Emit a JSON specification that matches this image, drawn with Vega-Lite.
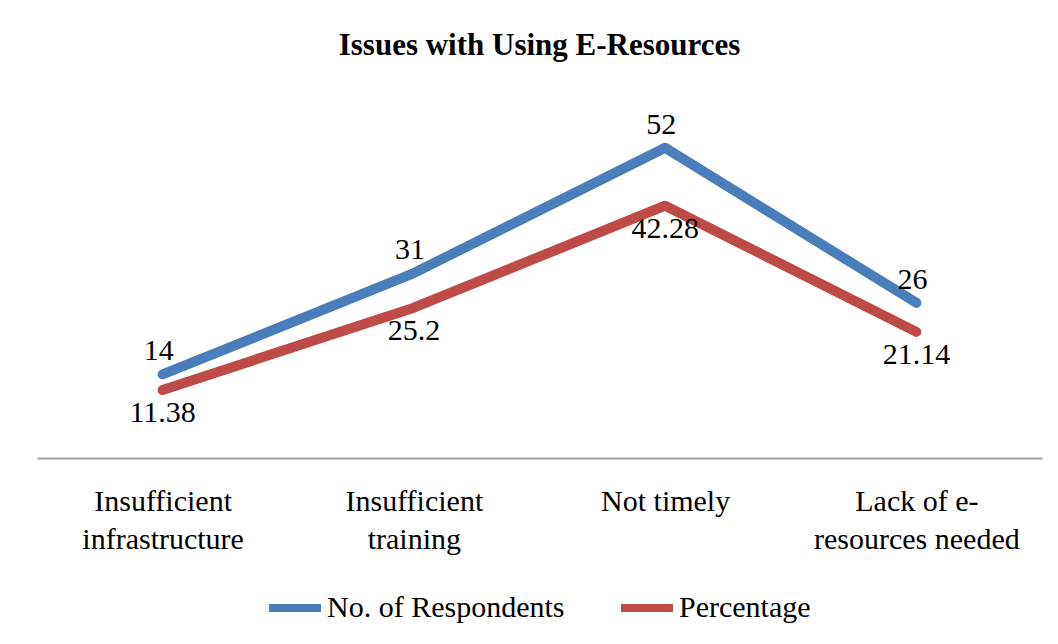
{
  "$schema": "https://vega.github.io/schema/vega-lite/v6.json",
  "autosize": {"type": "none"},
  "width": 1005,
  "height": 358,
  "padding": {"left": 37, "top": 100, "right": 16, "bottom": 186},
  "background": "white",
  "title": {
    "text": "Issues with Using E-Resources",
    "font": "Liberation Serif",
    "fontSize": 31,
    "fontWeight": "bold",
    "color": "black",
    "anchor": "middle",
    "offset": 38
  },
  "data": {
    "values": [
      {"category": "Insufficient infrastructure", "series": "No. of Respondents", "value": 14},
      {"category": "Insufficient training", "series": "No. of Respondents", "value": 31},
      {"category": "Not timely", "series": "No. of Respondents", "value": 52},
      {"category": "Lack of e-resources needed", "series": "No. of Respondents", "value": 26},
      {"category": "Insufficient infrastructure", "series": "Percentage", "value": 11.38},
      {"category": "Insufficient training", "series": "Percentage", "value": 25.2},
      {"category": "Not timely", "series": "Percentage", "value": 42.28},
      {"category": "Lack of e-resources needed", "series": "Percentage", "value": 21.14}
    ]
  },
  "encoding": {
    "x": {
      "field": "category",
      "type": "nominal",
      "sort": null,
      "scale": {"type": "point", "padding": 0.5},
      "axis": {
        "title": null,
        "labelAngle": 0,
        "domainColor": "#A6A6A6",
        "domainWidth": 2,
        "ticks": false,
        "labelFont": "Liberation Serif",
        "labelFontSize": 30,
        "labelColor": "black",
        "labelPadding": 28,
        "labelLineHeight": 38,
        "labelBaseline": "top",
        "labelLimit": 0,
        "labelExpr": "datum.label == 'Not timely' ? datum.label : (datum.label == 'Lack of e-resources needed' ? ['Lack of e-', 'resources needed'] : split(datum.label, ' '))"
      }
    },
    "y": {
      "field": "value",
      "type": "quantitative",
      "scale": {"domain": [0, 60], "nice": false, "zero": true},
      "axis": null
    }
  },
  "layer": [
    {
      "mark": {"type": "line", "strokeWidth": 10, "strokeCap": "round", "strokeJoin": "round"},
      "encoding": {
        "color": {
          "field": "series",
          "type": "nominal",
          "scale": {"domain": ["No. of Respondents", "Percentage"], "range": ["#4A7EBB", "#BE4B48"]},
          "legend": {
            "title": null,
            "orient": "none",
            "direction": "horizontal",
            "legendX": 228,
            "legendY": 478,
            "symbolType": "stroke",
            "symbolSize": 2700,
            "symbolStrokeWidth": 8,
            "labelFont": "Liberation Serif",
            "labelFontSize": 30,
            "labelColor": "black",
            "labelOffset": 2,
            "labelLimit": 0,
            "columnPadding": 40
          }
        }
      }
    },
    {
      "transform": [{"filter": "datum.series == 'No. of Respondents'"}],
      "mark": {"type": "text", "font": "Liberation Serif", "fontSize": 30, "color": "black", "dy": -23, "dx": -4},
      "encoding": {"text": {"field": "value", "type": "quantitative"}}
    },
    {
      "transform": [{"filter": "datum.series == 'Percentage'"}],
      "mark": {"type": "text", "font": "Liberation Serif", "fontSize": 30, "color": "black", "dy": 23},
      "encoding": {"text": {"field": "value", "type": "quantitative"}}
    }
  ],
  "config": {"view": {"stroke": null}}
}
